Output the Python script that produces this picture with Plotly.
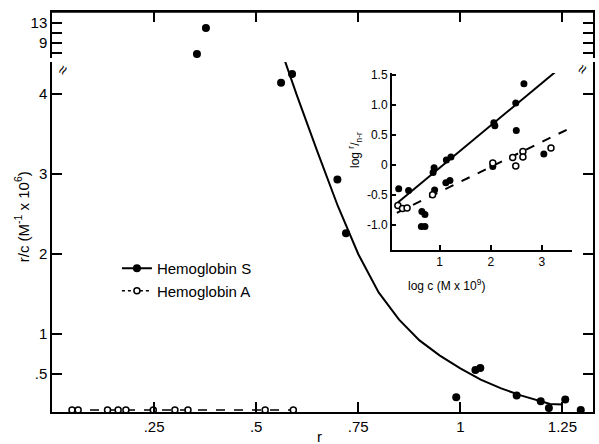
import plotly.graph_objects as go

# ---- main plot data ----
hbs_r = [0.355, 0.377, 0.561, 0.588, 0.699, 0.72, 0.99, 1.037, 1.049, 1.138, 1.197, 1.217, 1.257, 1.295]
hbs_rc = [6.8, 12.0, 4.14, 4.25, 2.93, 2.26, 0.21, 0.55, 0.575, 0.23, 0.16, 0.075, 0.18, 0.05]

hba_r = [0.049, 0.064, 0.136, 0.162, 0.181, 0.248, 0.301, 0.333, 0.522, 0.591]
hba_rc = [0.05, 0.05, 0.05, 0.05, 0.05, 0.05, 0.05, 0.05, 0.05, 0.05]

fit_r = [0.57, 0.6, 0.65, 0.7, 0.75, 0.8, 0.85, 0.9, 0.95, 1.0, 1.05, 1.1, 1.15, 1.2, 1.22, 1.25]
fit_rc = [4.42, 3.98, 3.28, 2.6, 2.0, 1.52, 1.18, 0.92, 0.73, 0.57, 0.43, 0.32, 0.23, 0.16, 0.125, 0.12]

x_ticks = [0.25, 0.5, 0.75, 1, 1.25]
x_ticktext = [".25", ".5", ".75", "1", "1.25"]
y_ticks = [0.5, 1, 2, 3, 4]
y_ticktext = [".5", "1", "2", "3", "4"]
y2_ticks = [7, 9, 11, 13]
y2_ticktext = ["", "9", "", "13"]

# ---- inset data ----
in_s_x = [0.196, 0.39, 0.65, 0.71, 0.64, 0.71, 0.87, 0.89, 0.9, 1.13, 1.22, 1.12, 1.2, 2.06, 2.08, 2.04, 2.49, 2.5, 2.65, 3.04, 3.1]
in_s_y = [-0.4, -0.43, -0.78, -0.83, -1.03, -1.03, -0.13, -0.05, -0.42, 0.08, 0.13, -0.3, -0.26, 0.7, 0.65, -0.03, 1.03, 0.57, 1.35, 0.18, 1.6]
in_a_x = [0.18, 0.27, 0.36, 0.86, 2.04, 2.43, 2.49, 2.63, 2.63, 3.18]
in_a_y = [-0.68, -0.73, -0.72, -0.5, 0.03, 0.12, -0.02, 0.22, 0.13, 0.28]
in_fit_s_x = [0.18, 3.51]
in_fit_s_y = [-0.63, 1.72]
in_fit_a_x = [0.16, 3.6]
in_fit_a_y = [-0.8, 0.63]
in_x_ticks = [1, 2, 3]
in_y_ticks = [-1, -0.5, 0, 0.5, 1, 1.5]
in_y_ticktext = ["-1.0", "-0.5", "0", "0.5", "1.0", "1.5"]

FONT = "Liberation Sans, Arial, Helvetica, sans-serif"
BLK = "#000000"

fig = go.Figure()

# main Hb S points: lower segment (x, y) and upper segment (x2, y2); out-of-range points clip
fig.add_trace(go.Scatter(x=hbs_r, y=hbs_rc, mode="markers", xaxis="x", yaxis="y",
                         marker=dict(size=8, color=BLK), showlegend=False, cliponaxis=True))
fig.add_trace(go.Scatter(x=hbs_r, y=hbs_rc, mode="markers", xaxis="x2", yaxis="y2",
                         marker=dict(size=8, color=BLK), showlegend=False, cliponaxis=True))
fig.add_trace(go.Scatter(x=fit_r, y=fit_rc, mode="lines", line=dict(color=BLK, width=2),
                         showlegend=False, xaxis="x", yaxis="y"))
fig.add_trace(go.Scatter(x=hba_r, y=hba_rc, mode="lines+markers", xaxis="x", yaxis="y",
                         line=dict(color=BLK, width=1.5, dash="dash"),
                         marker=dict(size=6, color="white", line=dict(color=BLK, width=1.5)),
                         showlegend=False, cliponaxis=False))

# legend entries
fig.add_trace(go.Scatter(x=[None], y=[None], mode="lines+markers", name="Hemoglobin S",
                         line=dict(color=BLK, width=2), marker=dict(size=8, color=BLK)))
fig.add_trace(go.Scatter(x=[None], y=[None], mode="lines+markers", name="Hemoglobin A",
                         line=dict(color=BLK, width=1.5, dash="dot"),
                         marker=dict(size=6, color="white", line=dict(color=BLK, width=1.5))))

# inset
fig.add_trace(go.Scatter(x=in_fit_s_x, y=in_fit_s_y, mode="lines", xaxis="x3", yaxis="y3",
                         line=dict(color=BLK, width=2), showlegend=False))
fig.add_trace(go.Scatter(x=in_fit_a_x, y=in_fit_a_y, mode="lines", xaxis="x3", yaxis="y3",
                         line=dict(color=BLK, width=2, dash="dash"), showlegend=False))
fig.add_trace(go.Scatter(x=in_s_x, y=in_s_y, mode="markers", xaxis="x3", yaxis="y3",
                         marker=dict(size=7, color=BLK), showlegend=False))
fig.add_trace(go.Scatter(x=in_a_x, y=in_a_y, mode="markers", xaxis="x3", yaxis="y3",
                         marker=dict(size=6, color="white", line=dict(color=BLK, width=1.5)),
                         showlegend=False))

axis_common = dict(showline=True, linecolor=BLK, linewidth=1.5, ticks="inside", tickcolor=BLK,
                   tickwidth=1.5, showgrid=False, zeroline=False, automargin=False,
                   tickfont=dict(family=FONT, size=15, color=BLK))

fig.update_layout(
    width=599, height=444,
    margin=dict(l=52, r=6, t=12, b=32),
    paper_bgcolor="white", plot_bgcolor="white",
    font=dict(family=FONT, color=BLK),
    xaxis=dict(axis_common, domain=[0, 1], range=[0, 1.325], tickvals=x_ticks, ticktext=x_ticktext,
               ticklen=10, anchor="y", mirror=False),
    xaxis2=dict(axis_common, domain=[0, 1], range=[0, 1.325], tickvals=x_ticks, ticklen=10,
                anchor="y2", side="top", showticklabels=False),
    yaxis=dict(axis_common, domain=[0, 0.875], range=[0.025, 4.4], tickvals=y_ticks,
               ticktext=y_ticktext, ticklen=10, anchor="x", mirror="ticks"),
    yaxis2=dict(axis_common, domain=[0.885, 1], range=[6, 15.2], tickvals=y2_ticks,
                ticktext=y2_ticktext, ticklen=10, anchor="x2", mirror="ticks"),
    xaxis3=dict(axis_common, domain=[0.628, 0.961], range=[0.06, 3.59], tickvals=in_x_ticks,
                ticklen=5, anchor="y3", tickfont=dict(family=FONT, size=12, color=BLK)),
    yaxis3=dict(axis_common, domain=[0.405, 0.8475], range=[-1.42, 1.53], tickvals=in_y_ticks,
                ticktext=in_y_ticktext, ticklen=5, anchor="x3",
                tickfont=dict(family=FONT, size=12, color=BLK)),
    legend=dict(x=0.12, y=0.40, xanchor="left", yanchor="top", bgcolor="rgba(0,0,0,0)",
                font=dict(family=FONT, size=15, color=BLK), tracegroupgap=0),
    showlegend=True,
)

# top frame line
fig.add_shape(type="line", xref="paper", yref="paper", x0=0, x1=1, y0=1, y1=1,
              line=dict(color=BLK, width=1.5))

fig.add_annotation(text="r/c (M<sup>-1</sup> x 10<sup>6</sup>)", xref="paper", yref="paper",
                   x=-0.055, y=0.4875, showarrow=False, textangle=-90,
                   font=dict(family=FONT, size=15, color=BLK), xanchor="center", yanchor="middle")
fig.add_annotation(text="r", xref="paper", yref="paper", x=0.495, y=-0.06, showarrow=False,
                   font=dict(family=FONT, size=15, color=BLK), yanchor="middle")
fig.add_annotation(text="log c (M x 10<sup>9</sup>)", xref="paper", yref="paper", x=0.804, y=0.3175,
                   showarrow=False, font=dict(family=FONT, size=12, color=BLK), yanchor="middle")
fig.add_annotation(text="log <sup>r</sup>/<sub>n-r</sub>", xref="paper", yref="paper",
                   x=(355 - 52) / 541, y=(412 - 150) / 400, showarrow=False, textangle=-90,
                   font=dict(family=FONT, size=12, color=BLK), xanchor="center", yanchor="middle")
# axis break marks
for xp, yp in [(0, 0.88), (1, 0.88)]:
    fig.add_annotation(text="≈", xref="paper", yref="paper", x=xp, y=yp, showarrow=False,
                       textangle=-60, font=dict(family=FONT, size=16, color=BLK),
                       bgcolor="white", borderpad=0)

fig.write_html("out.html", config={"displayModeBar": False},
               post_script="document.body.style.margin='0';document.body.style.padding='0';")
